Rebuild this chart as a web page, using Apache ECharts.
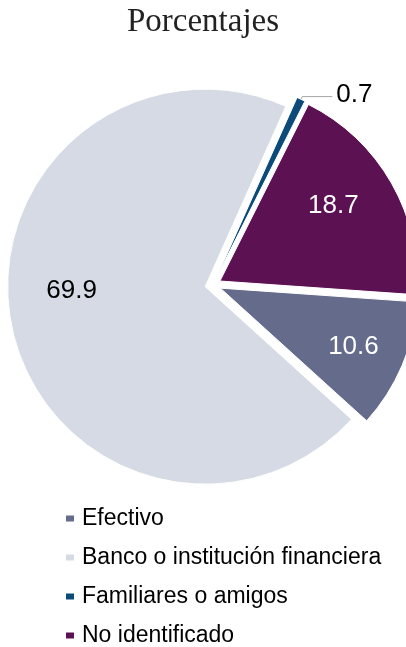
<!DOCTYPE html>
<html>
<head>
<meta charset="utf-8">
<script src="https://cdn.jsdelivr.net/npm/echarts@6/dist/echarts.min.js"></script>
<style>
html,body{margin:0;padding:0;background:#fff;}
#chart{width:406px;height:647px;}
</style>
</head>
<body>
<div id="chart"></div>
<script>
var categories = ['Efectivo', 'Banco o institución financiera', 'Familiares o amigos', 'No identificado'];
var values = [10.6, 69.9, 0.7, 18.7];
var colors = ['#646b8b', '#d5dae4', '#0c4a7a', '#5c1153'];
var labelColors = ['#ffffff', '#000000', '#000000', '#ffffff'];
var labelShift = [[39.5, 18.5], [-34, -17], [0, -2], [25, -24.5]];

var chart = echarts.init(document.getElementById('chart'), null, {renderer: 'canvas'});
var data = categories.map(function (c, i) {
  var isOutside = i === 2;
  return {
    name: c,
    value: values[i],
    selected: true,
    itemStyle: {color: colors[i]},
    label: {
      position: isOutside ? 'outside' : 'inside',
      color: labelColors[i]
    },
    labelLine: {show: isOutside}
  };
});

chart.setOption({
  animation: false,
  backgroundColor: '#ffffff',
  title: {
    text: 'Porcentajes',
    left: 'center',
    top: 6,
    padding: 0,
    textStyle: {fontFamily: 'Liberation Serif', fontSize: 33, fontWeight: 'normal', color: '#222222'}
  },
  legend: {
    orient: 'vertical',
    left: 64,
    top: 507,
    padding: 0,
    itemWidth: 10,
    itemHeight: 8,
    itemGap: 16,
    icon: 'rect',
    selectedMode: false,
    textStyle: {fontFamily: 'Liberation Sans', fontSize: 23, color: '#000000', padding: [0, 0, 0, 2]},
    data: categories
  },
  series: [{
    type: 'pie',
    center: [213, 285],
    radius: [0, 197.5],
    startAngle: -4,
    clockwise: true,
    selectedMode: 'multiple',
    selectedOffset: 8,
    avoidLabelOverlap: false,
    itemStyle: {borderColor: '#ffffff', borderWidth: 1},
    select: {itemStyle: {borderColor: '#ffffff', borderWidth: 1}},
    emphasis: {disabled: true},
    label: {
      show: true,
      fontFamily: 'Liberation Sans',
      fontSize: 26,
      formatter: function (p) { return p.value.toFixed(1); },
      distanceToLabelLine: 4
    },
    labelLine: {
      length: 3,
      length2: 30,
      lineStyle: {color: '#a6a6a6', width: 1}
    },
    labelLayout: function (p) {
      var s = labelShift[p.dataIndex];
      return {dx: s[0], dy: s[1]};
    },
    data: data
  }]
});
</script>
</body>
</html>
